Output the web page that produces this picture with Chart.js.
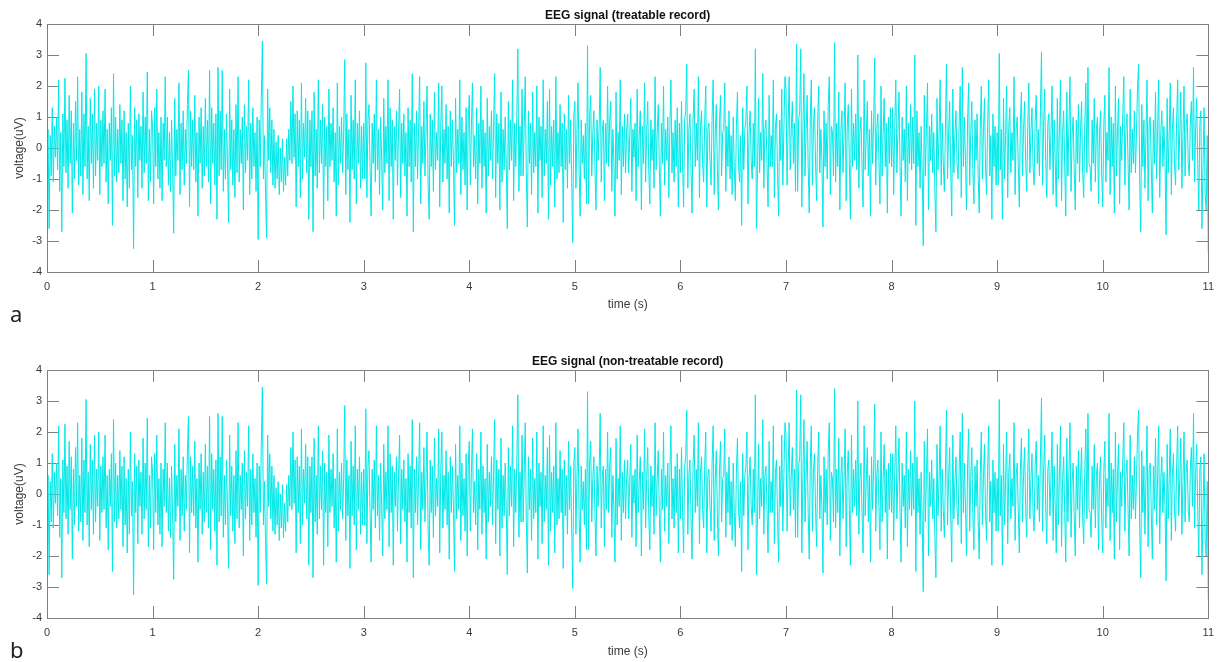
<!DOCTYPE html>
<html>
<head>
<meta charset="utf-8">
<script src="https://cdn.jsdelivr.net/npm/chart.js@4.4.1/dist/chart.umd.min.js"></script>
<style>
  body { margin: 0; background: #fff; }
  .panel { position: absolute; left: 0; }
</style>
</head>
<body>
<canvas id="eeg-a" class="panel" width="1222" height="331" style="top:0"></canvas>
<canvas id="eeg-b" class="panel" width="1222" height="331" style="top:331px"></canvas>
<script>
const sampleStep = 0.01;
const treatableVoltage = [
  -0.5, 0.6, -2.6, 0.4, -0.9, 1.3, -1.1, 0.7, -0.3, 1.0, -0.7, 2.2, -1.4, 0.5, -2.7, 1.1, -0.6, 2.25, -0.8, 0.9, -1.3, 1.7, -0.5, 1.2, -2.1, 0.8, -1.0, 1.5, -0.4, 2.3, -1.2, 0.6, -0.9, 1.8, -1.5, 1.1, -0.6, 3.05, -1.0, 0.7, -1.7, 1.6, -0.5, 1.1, -1.3, 1.9, -0.9, 0.8, -0.4, 2.0,
  -1.5, 0.9, -0.6, 1.2, -0.5, 1.9, -1.1, 0.6, -1.8, 0.8, -0.4, 1.3, -2.5, 2.4, -0.9, 1.0, -1.1, 0.6, -0.8, 1.4, -0.5, 0.9, -1.7, 1.2, -1.0, 0.5, -1.9, 0.8, -1.3, 2.0, -0.7, 0.4, -3.25, 1.3, -0.6, 0.9, -1.6, 1.1, -0.4, 0.7, -1.3, 1.8, -0.8, 1.0, -0.5, 2.45, -1.7, 0.6, -1.1, 1.2,
  0.7, -1.8, 1.3, -0.6, 1.9, -1.0, 0.5, -1.3, 1.0, -1.7, 0.8, -0.4, 2.3, -0.6, 1.0, -1.2, 0.5, -1.4, 0.9, -0.7, -2.75, 1.6, -0.9, 0.6, -0.4, 2.1, -1.5, 0.8, -0.7, 1.2, -1.2, 0.6, -0.5, 1.4, 2.5, -1.9, 1.2, -0.6, 0.9, -0.7, 1.7, -1.1, 0.5, -2.2, 1.0, -0.5, 1.3, -1.3, 0.7, -0.9,
  1.6, -0.6, 0.9, -1.1, 2.5, -1.8, 1.3, -0.5, 0.8, -1.2, 1.1, -2.3, 2.6, -0.9, 1.2, -0.7, 2.5, -1.4, 0.6, -1.0, 1.1, -0.5, -2.4, 1.9, -0.7, 0.9, -1.2, 0.6, -1.6, 1.4, -0.8, 2.3, -1.1, 0.6, -0.5, 1.0, -2.0, 1.4, -0.8, 0.7, -0.4, 2.2, -1.5, 0.8, -1.0, 1.3, -0.6, 0.5, -1.4, 1.0,
  -2.95, 0.9, -0.6, 1.6, 3.45, -1.0, 0.4, -1.5, -2.9, 1.9, -0.4, 1.3, -0.8, 0.9, -1.2, 0.6, -1.3, 0.2, -1.0, 0.4, -1.5, 0.0, -1.1, 0.3, -1.4, -0.3, -1.2, 0.3, -0.9, 0.6, -0.4, 1.5, -0.5, 2.0, -0.3, 1.1, -1.9, 1.2, -0.6, 0.9, -1.6, 2.1, -1.0, 0.8, -0.3, 1.6, -0.8, 1.2, -2.3, 0.9,
  -0.6, 1.2, -2.7, 1.8, -0.9, 0.6, -1.3, 2.2, -0.8, 0.9, -0.5, 1.4, -2.3, 1.0, -0.6, 0.7, -1.7, 1.9, -0.6, 0.8, -0.4, 1.3, -1.1, 0.5, -2.2, 2.1, -1.2, 0.7, -0.5, 1.0, -0.8, 0.5, 2.85, -1.5, 1.1, -0.7, 0.6, -2.4, 1.7, -0.7, 0.9, -1.0, 2.2, -1.8, 0.8, -0.5, 1.2, -1.3, 0.7, -1.0,
  0.8, -1.0, 2.75, -1.6, 0.9, 1.4, -0.6, -2.2, 0.8, -0.5, 1.1, -1.1, 2.2, -0.7, 0.6, -1.5, 1.0, -0.4, -2.0, 1.6, -0.8, 0.7, -0.5, 2.2, -1.7, 1.3, -0.6, 0.9, -2.3, 0.7, -0.4, 1.2, -1.2, 0.6, 1.9, -1.6, 0.8, -0.5, 1.1, -0.9, 0.5, -2.2, 1.3, -0.6, 0.9, -1.1, 2.4, -2.7, 0.8, -0.6,
  1.2, -1.0, 0.6, 2.3, -1.8, 0.7, -0.5, 1.5, -0.9, 0.4, 2.0, -1.2, -2.3, 1.1, -0.6, 0.9, -1.4, 1.8, -0.7, 0.5, -0.4, 2.1, -1.9, 0.8, 2.0, -1.1, 0.6, -0.5, 1.4, -1.0, 0.7, -2.1, 1.2, -0.6, 0.9, -0.4, -2.5, 1.6, -0.8, 0.6, -0.5, 2.2, -1.5, 1.0, -0.7, 0.5, -1.2, 1.3, -2.0, 0.9,
  1.7, -1.2, 0.7, 2.1, -0.6, 0.4, -1.0, 1.3, -1.8, 0.8, -0.5, 2.0, -1.3, 0.9, -0.6, 0.5, -2.1, 1.6, -0.9, 0.7, -0.4, 1.2, -1.0, 0.6, 2.4, -1.6, 1.1, -0.5, 0.8, -2.0, 1.8, -1.1, 0.6, -0.7, 1.0, -0.5, -2.6, 1.5, -0.7, 0.9, -0.4, 2.2, -1.7, 0.8, -0.6, 1.0, 3.2, -1.4, 0.7, -0.9,
  1.9, -0.9, 0.6, 2.3, -0.8, -2.55, 1.2, -0.5, 0.8, -1.5, 1.8, -0.8, 0.5, -0.6, 2.0, -2.1, 1.0, -0.4, 0.7, -1.6, 2.2, -0.9, 0.6, -0.5, 1.5, -2.3, 1.9, -1.2, 0.7, -0.6, 0.9, -1.9, 2.3, -1.0, 0.5, -0.8, 1.4, -0.6, 0.8, -2.4, 1.1, -0.7, 0.6, -1.3, 1.7, -0.5, 0.9, -1.1, -3.05, 1.0,
  1.5, -1.3, 0.6, 2.1, -0.7, -2.2, 0.9, -0.5, 0.4, -1.0, 0.8, -1.8, 3.3, -1.8, 1.0, 1.7, -0.9, 0.5, 1.2, -0.6, -2.0, 0.9, -0.4, 0.7, 2.6, -1.1, 0.6, 0.9, -1.7, 0.8, -0.5, 2.0, -0.6, 0.9, 1.5, -1.4, 0.6, -0.5, -2.2, 1.8, -1.0, 0.5, -0.4, 2.2, -1.5, 0.7, -0.6, 1.1, -0.8, 0.5,
  1.1, -0.8, 0.4, 1.6, -1.4, 0.6, -0.3, 0.8, -1.7, 1.9, -0.6, 0.4, 1.2, -2.0, 0.7, -0.5, 2.1, -1.1, 0.5, 1.5, -0.7, -1.8, 0.9, -0.4, 0.6, -1.3, 2.3, -0.7, 0.5, 1.4, -0.6, -2.2, 0.8, -0.5, 2.0, -1.2, 0.6, -0.4, 1.0, -1.6, 0.7, 2.2, -0.8, 0.5, -1.1, 0.9, -0.6, 1.3, -1.9, 0.8,
  -0.8, 1.5, -0.5, -1.9, 0.9, 1.2, 2.7, -1.3, 0.6, 1.1, -0.7, -2.1, 1.0, 1.9, -0.6, 0.8, -0.4, 2.3, -1.6, 0.7, 1.2, -0.5, -1.1, 0.9, 2.0, -1.9, 0.6, 0.8, -0.4, -1.2, 1.0, 2.2, -1.5, 0.5, 1.4, -0.7, -2.0, 0.8, 1.7, -0.9, 0.5, 0.6, 2.1, -1.4, 0.7, -0.6, 1.2, -1.0, 0.4, -1.5,
  1.0, -0.6, -1.7, 0.7, 1.8, -0.5, -1.1, 0.4, -2.5, 1.3, -0.7, 0.6, 0.9, 2.0, -1.8, 0.5, 1.2, -0.4, -1.0, 0.8, -0.6, 3.2, -2.6, -0.7, 1.6, -0.8, 0.5, -0.4, 2.4, -1.3, 0.6, 0.9, -0.5, -1.9, 1.7, -0.6, 0.4, -0.6, 2.2, -1.6, 0.7, 1.1, -0.8, -2.2, 0.9, -0.4, 1.9, -1.2, 0.6, 2.3,
  1.9, -1.2, 0.7, 2.3, -0.7, 0.6, 1.5, -0.5, 0.8, -1.4, 3.35, -1.4, 0.9, 1.2, 3.2, -1.9, 0.6, 2.4, -0.9, 0.5, 1.7, -0.6, -2.1, 1.0, 2.2, -1.2, 0.7, 1.3, -0.5, -1.7, 0.9, 2.0, -0.8, 0.6, -0.4, -2.55, 1.2, -0.6, 0.8, -1.0, 1.4, 2.3, -1.5, 0.7, 0.5, -0.9, 3.4, -1.1, 0.8, -0.6,
  1.8, -2.0, 0.6, 1.2, -0.8, 0.5, 2.1, -1.7, 0.7, 1.4, -0.5, -2.3, 1.9, -0.6, 0.8, -0.4, 1.1, -0.7, 3.0, -1.3, 0.5, 1.0, -0.6, -1.9, 2.2, -0.7, 0.4, 1.5, -0.9, 0.6, -2.2, 1.2, -0.5, 0.8, 2.9, -1.2, 0.6, 1.1, -0.4, -1.8, 2.0, -0.9, 0.5, 1.6, -0.6, 0.8, -2.1, 1.0, -0.5, 1.3,
  -0.6, 1.3, -1.5, 0.7, 2.2, -0.8, 0.5, 1.8, -0.6, -2.2, 1.0, -0.4, 0.6, -1.1, 2.0, -1.7, 0.8, -0.5, 1.4, -0.7, 1.0, -0.5, 3.0, -2.5, 1.2, -0.6, 0.5, -1.3, 0.7, -0.8, -3.15, 1.7, -0.9, 0.6, 2.1, -2.0, 0.7, -0.4, 1.1, -0.8, 0.5, -1.4, -2.7, 1.6, -0.7, 0.5, 2.2, -1.2, 0.8, -0.5,
  -1.4, 0.6, 2.7, -1.0, 0.5, 1.5, -0.7, -2.2, 1.9, -0.8, 0.4, 1.2, -0.5, -1.0, 0.8, 2.0, -1.6, 2.6, -0.6, 1.0, -0.4, -2.0, 0.9, 2.1, -1.2, 0.5, 1.5, -0.7, -1.8, 0.9, -0.4, 1.1, -0.9, -2.1, 0.6, 2.0, -1.0, 0.5, 1.6, -0.6, -1.5, 0.8, 2.2, -0.9, 0.4, -2.3, 1.1, -0.6, 0.7, -1.2,
  0.5, -1.2, 3.05, -0.7, 0.6, -2.3, 1.6, -1.0, 0.4, 2.0, -1.6, 0.7, 1.3, -0.8, 0.5, -0.4, 2.3, -1.5, 0.6, 1.0, -0.5, -1.9, 0.8, 1.8, -0.9, 0.6, 1.5, -0.4, -1.4, 0.7, 2.1, -0.8, 0.5, 1.3, -0.6, -1.2, 0.9, 1.7, -0.5, 0.6, -0.9, 1.2, 3.1, -1.2, 0.7, 1.9, -0.4, -1.6, 0.8, 1.1,
  -0.7, 0.5, 2.0, -1.5, 0.9, -0.4, -1.9, 1.6, -1.0, 0.6, 2.2, -1.7, 0.5, 1.2, -0.6, -2.2, 1.8, -0.9, 0.7, 2.3, -1.4, 0.4, 1.0, -0.7, -2.0, 0.9, -0.5, 1.4, -1.1, 0.6, 1.5, -0.8, -1.6, 0.7, 2.1, -0.8, 2.6, -0.5, -0.6, -1.4, 0.9, -0.5, 1.6, -1.1, 0.6, 1.0, -1.8, 0.5, 1.2, -0.8,
  -1.9, 0.7, 1.7, -1.1, 0.5, -0.4, 2.6, -1.5, 1.0, -0.6, 0.8, -2.1, 2.0, -0.9, 0.5, 1.6, -1.8, 0.7, -0.4, 1.1, 2.3, -1.2, 0.6, 1.1, -0.5, -2.0, 1.9, -0.8, 0.6, -0.5, 1.2, -0.8, 0.5, 2.0, 2.7, -1.0, -2.7, 1.4, -0.6, 0.9, -1.3, 0.5, 2.2, -1.7, 0.8, 1.0, -0.6, -2.1, 0.9, -0.5,
  1.8, -1.0, 0.6, 2.2, -1.6, 0.5, 1.2, -0.6, 0.7, -0.4, -2.8, 1.6, -0.8, 0.5, 2.1, -1.5, 0.6, 1.3, -0.5, -1.2, 0.9, 2.2, -0.7, 0.5, 1.8, -1.3, 0.4, 2.0, -0.9, 0.7, 1.1, -0.5, -0.9, 0.8, 1.5, -0.4, 2.6, -1.1, 0.6, 1.6, -0.5, -2.0, 0.8, 1.2, -2.6, -0.6, 1.3, -1.5, -2.0, 0.4,
  -3.4
];
// the non-treatable record shows the same trace in the figure
const nonTreatableVoltage = treatableVoltage;

const xTicks = [0, 1, 2, 3, 4, 5, 6, 7, 8, 9, 10, 11];
const yTicks = [-4, -3, -2, -1, 0, 1, 2, 3, 4];

const fontFamily = '"Liberation Sans", Arial, sans-serif';
const frameColor = '#808080';
const textColor = '#3a3a3a';

// MATLAB style box with inward ticks on all four sides, plus title and panel letter
const matlabFrame = {
  id: 'matlabFrame',
  beforeDatasetsDraw(chart) {
    const { ctx, chartArea: a, scales: { x, y } } = chart;
    const len = 12;
    ctx.save();
    ctx.strokeStyle = frameColor;
    ctx.lineWidth = 1;
    ctx.beginPath();
    xTicks.forEach(v => {
      const px = Math.round(x.getPixelForValue(v)) + 0.5;
      ctx.moveTo(px, a.bottom); ctx.lineTo(px, a.bottom - len);
      ctx.moveTo(px, a.top); ctx.lineTo(px, a.top + len);
    });
    yTicks.forEach(v => {
      const py = Math.round(y.getPixelForValue(v)) + 0.5;
      ctx.moveTo(a.left, py); ctx.lineTo(a.left + len, py);
      ctx.moveTo(a.right, py); ctx.lineTo(a.right - len, py);
    });
    ctx.stroke();
    ctx.restore();
  },
  afterDraw(chart, args, opts) {
    const { ctx, chartArea: a } = chart;
    ctx.save();
    ctx.strokeStyle = frameColor;
    ctx.lineWidth = 1;
    ctx.strokeRect(Math.round(a.left) + 0.5, Math.round(a.top) + 0.5,
      Math.round(a.right - a.left), Math.round(a.bottom - a.top));

    ctx.fillStyle = '#111';
    ctx.font = 'bold 12px ' + fontFamily;
    ctx.textAlign = 'center';
    ctx.textBaseline = 'middle';
    ctx.fillText(opts.title, (a.left + a.right) / 2, a.top - 8);

    ctx.fillStyle = '#222';
    ctx.font = '22px "Noto Sans", "Open Sans", sans-serif';
    ctx.textAlign = 'left';
    ctx.textBaseline = 'alphabetic';
    ctx.fillText(opts.letter, 10, opts.letterY);
    ctx.restore();
  }
};

function drawPanel(canvasId, voltage, title, letter, letterY, padTop, xAxisHeight, xTitlePad) {
  const points = voltage.map((v, i) => ({ x: i * sampleStep, y: v }));
  return new Chart(document.getElementById(canvasId), {
    type: 'line',
    data: {
      datasets: [{
        data: points,
        borderColor: '#00e8e8',
        borderWidth: 1,
        pointRadius: 0,
        tension: 0,
        fill: false
      }]
    },
    options: {
      responsive: false,
      animation: false,
      parsing: false,
      normalized: true,
      layout: { padding: { top: padTop, right: 11, left: 0, bottom: 0 } },
      plugins: {
        legend: { display: false },
        tooltip: { enabled: false },
        matlabFrame: { title: title, letter: letter, letterY: letterY }
      },
      scales: {
        x: {
          type: 'linear',
          min: 0,
          max: 11,
          grid: { display: false, drawTicks: false },
          border: { display: false },
          afterBuildTicks: s => { s.ticks = xTicks.map(v => ({ value: v })); },
          afterFit: s => { s.height = xAxisHeight; },
          ticks: { padding: 8, color: textColor, font: { family: fontFamily, size: 11 }, maxRotation: 0, autoSkip: false },
          title: { display: true, text: 'time (s)', color: textColor, font: { family: fontFamily, size: 12 }, padding: { top: 0, bottom: xTitlePad } }
        },
        y: {
          min: -4,
          max: 4,
          grid: { display: false, drawTicks: false },
          border: { display: false },
          afterBuildTicks: s => { s.ticks = yTicks.map(v => ({ value: v })); },
          afterFit: s => { s.width = 47; },
          ticks: { padding: 5, color: textColor, font: { family: fontFamily, size: 11 } },
          title: { display: true, text: 'voltage(uV)', color: textColor, font: { family: fontFamily, size: 12 }, padding: { top: 12, bottom: 0 } }
        }
      }
    },
    plugins: [matlabFrame]
  });
}

drawPanel('eeg-a', treatableVoltage, 'EEG signal (treatable record)', 'a', 322, 24, 59, 19);
drawPanel('eeg-b', nonTreatableVoltage, 'EEG signal (non-treatable record)', 'b', 327, 39, 44, 3);
</script>
</body>
</html>
